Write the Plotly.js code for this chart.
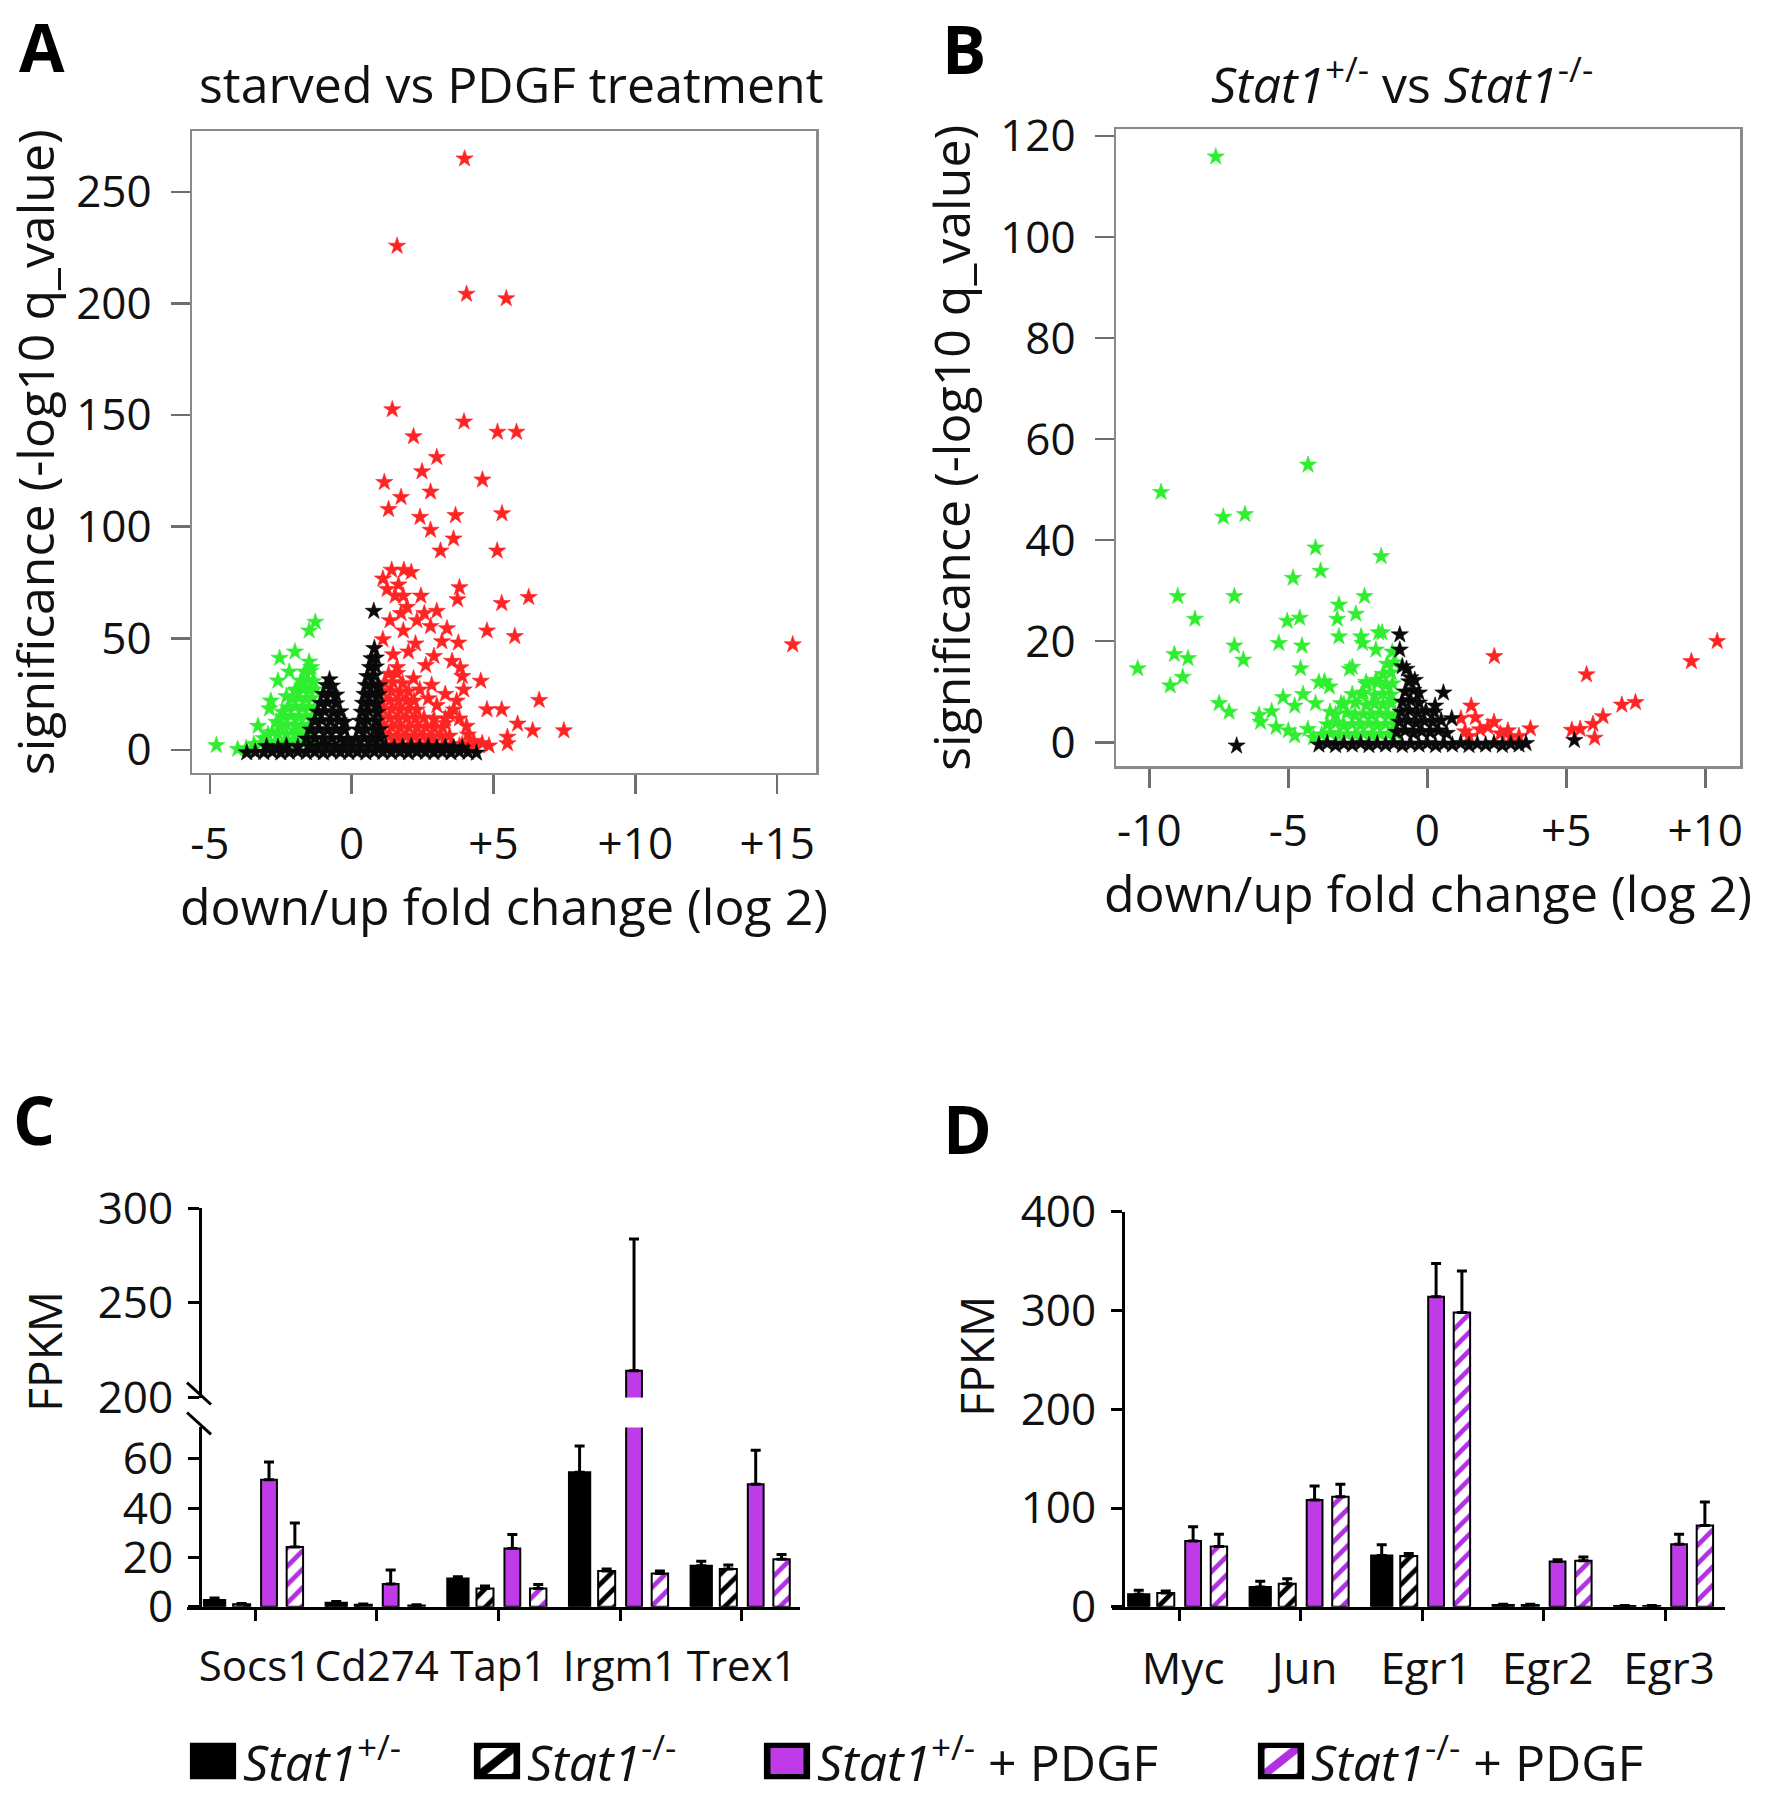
<!DOCTYPE html>
<html><head><meta charset="utf-8">
<script src="https://cdn.plot.ly/plotly-3.0.1.min.js"></script>
<style>html,body{margin:0;padding:0;background:#fff}</style>
</head><body>
<div id="chart" style="width:1772px;height:1800px"></div>
<script>
// ---------------- DATA ----------------
// Panel A: starved vs PDGF treatment (x = log2 fold change, y = -log10 q)
const A_xticks = [-5, 0, 5, 10, 15];
const A_xticktext = ['-5', '0', '+5', '+10', '+15'];
const A_down = [ // green (down-regulated)
[-4.77,2.1],[-4.02,0.4],[-3.72,0.8],[-3.45,2.6],[-3.3,10.7],[-3.1,5.2],[-2.85,22],[-2.9,18.5],[-2.6,31],[-2.54,41.2],[-2.2,35],[-2.0,44],[-1.5,53.4],[-1.28,57.3],[-1.43,37],[-1.7,30.5],[-2.0,26.5],[-2.3,24],[-2.45,17],[-2.65,12.5],[-2.8,8],
[-3.2,3],[-2.9,3.4],[-2.6,2.8],[-2.3,3.2],[-2.0,3],[-1.7,3.3],[-1.45,2.9],
[-2.95,7],[-2.6,7.3],[-2.3,6.8],[-2.0,7.2],[-1.75,7],[-1.5,6.7],
[-2.55,11],[-2.3,11.4],[-2.0,10.8],[-1.75,11.2],[-1.5,11],
[-2.4,15],[-2.15,15.3],[-1.85,14.8],[-1.6,15.2],[-1.35,15],
[-2.25,19],[-2.0,19.4],[-1.75,18.8],[-1.5,19.2],[-1.3,19],
[-2.1,23],[-1.85,23.3],[-1.6,22.8],[-1.4,23.2],
[-1.95,27],[-1.7,27.2],[-1.5,26.8],[-1.3,27.1],
[-1.8,31],[-1.55,31.3],[-1.35,30.8],
[-1.65,35],[-1.45,35.4],[-1.5,39.5]
];
const A_up = [ // red (up-regulated)
[3.98,264.8],[1.60,225.7],[4.05,204.2],[5.45,202.2],[1.43,152.5],[3.96,147],[2.18,140.4],[5.14,142.4],[5.81,142.4],[3.0,131.1],[2.48,124.7],[4.61,121],[1.15,119.9],[2.78,115.6],[1.74,113.2],[1.30,107.8],[2.41,104.3],[3.66,105.1],[5.30,105.9],[2.78,98.5],[3.59,94.6],[3.13,89.2],[5.13,89.2],
[1.10,76.7],[1.41,80.6],[1.84,80.6],[2.10,79.6],[3.80,72.8],[3.73,67.4],[6.24,68.4],[1.53,69],[1.82,69],[2.44,69],[5.29,65.7],[3.0,62.2],[1.74,61.2],[2.56,61.2],[2.78,55.4],[3.36,54.4],[4.77,53.4],[5.75,50.9],[3.76,48],[3.18,48.6],[1.82,53.4],[1.10,49.5],[2.25,47.6],[1.46,42.7],[2.61,37.9],[3.54,39.8],[3.83,36.9],[3.90,33],[4.55,30.9],[2.82,29.1],[6.61,22.3],[4.77,18.1],[5.29,18.1],[5.85,11.7],[6.38,8.7],[7.48,8.7],[5.49,5.8],[5.49,2.9],[4.84,1.9],[2.18,32],[15.55,47.2],
[1.25,72],[1.65,74],[1.95,64],[2.3,58],[1.35,58],[2.0,44],[2.9,42],[1.6,37],[3.3,25],[3.6,18],[3.8,14],[4.05,10.7],[4.1,6.8],[3.3,12],[3.45,16],[3.7,22],[3.95,27],[4.3,4],[4.6,3],[3.9,2.5],[4.2,1.5],[3.0,20],[2.7,23],[2.4,27],
[1.1,2],[1.4,2.3],[1.7,1.8],[2.0,2.2],[2.3,2],[2.6,2.4],[2.9,1.8],[3.2,2.1],[3.5,2.3],[3.8,1.9],[4.1,2.2],
[1.05,6],[1.35,6.3],[1.65,5.8],[1.95,6.2],[2.25,6],[2.55,6.4],[2.85,5.8],[3.15,6.1],[3.45,6.3],
[1.1,10],[1.4,10.3],[1.7,9.8],[2.0,10.2],[2.3,10],[2.6,10.4],[2.9,9.8],[3.2,10.1],
[1.05,14],[1.35,14.3],[1.65,13.8],[1.95,14.2],[2.25,14],[2.55,14.4],[2.9,13.8],[3.3,14.1],
[1.1,18],[1.4,18.3],[1.7,17.8],[2.0,18.2],[2.3,18],
[1.05,22],[1.35,22.3],[1.65,21.8],[1.95,22.2],[2.2,22],
[1.1,26],[1.4,26.3],[1.7,25.8],[2.0,26.2],
[1.15,30],[1.45,30.3],[1.8,29.8],[1.3,34],[1.6,34.3]
];
const A_flat = [ // black (not significant)
[-3.7,-1.2],[-3.4,-0.9],[-3.1,-1.1],[-2.8,-0.8],[-2.5,-1.2],[-2.2,-1.0],[-1.9,-0.7],[-1.6,-1.1],[-1.3,-0.9],[-1.0,-1.2],[-0.7,-0.8],[-0.4,-1.0],[-0.1,-1.1],[0.2,-0.9],[0.5,-1.2],[0.8,-0.8],[1.1,-1.0],[1.4,-1.1],[1.7,-0.9],[2.0,-1.2],[2.3,-0.8],[2.6,-1.0],[2.9,-1.1],[3.2,-0.9],[3.5,-1.2],[3.8,-0.8],[4.1,-1.0],[4.4,-1.3],
[-3.0,1.6],[-2.6,1.2],[-2.3,1.8],[-1.9,1.4],[-1.5,1.7],[-1.2,1.3],[-0.9,1.9],[-0.6,1.5],[-0.3,1.2],[0.0,1.8],[0.3,1.4],[0.6,1.6],[0.9,1.3],[1.2,1.7],[1.5,1.2],[1.8,1.5],[2.1,1.8],[2.4,1.3],[2.7,1.6],[3.0,1.2],[3.3,1.5],[3.6,1.1],[3.9,0.9],
[-1.6,5],[-1.3,5.3],[-1.0,4.8],[-0.7,5.2],[-0.4,5],[-0.15,4.7],
[-1.45,9],[-1.15,9.3],[-0.85,8.8],[-0.55,9.2],[-0.25,8.9],
[-1.3,13],[-1.05,13.3],[-0.75,12.8],[-0.45,13.2],[-0.25,12.6],
[-1.2,17],[-0.95,17.3],[-0.65,16.8],[-0.4,17.2],
[-1.1,21],[-0.85,21.3],[-0.55,20.8],
[-1.0,25],[-0.75,25.3],[-0.55,24.7],
[-0.9,29],[-0.7,28.7],[-0.78,31.5],
[0.15,5],[0.45,5.3],[0.75,4.8],[1.0,5.2],
[0.25,9],[0.5,9.3],[0.8,8.8],[1.0,9.2],
[0.3,13],[0.55,13.3],[0.85,12.8],
[0.35,17],[0.6,17.3],[0.9,16.8],
[0.4,21],[0.65,21.3],[0.9,20.8],
[0.45,25],[0.7,25.3],[0.95,24.8],
[0.5,29],[0.75,29.3],[0.95,28.8],
[0.55,33],[0.8,33.3],[0.65,37],[0.85,37.3],
[0.7,41],[0.85,41.3],[0.8,45.5],[0.78,62.2]
];

// Panel B: Stat1+/- vs Stat1-/-
const B_xticks = [-10, -5, 0, 5, 10];
const B_xticktext = ['-10', '-5', '0', '+5', '+10'];
const B_down = [
[-7.61,115.9],[-4.29,54.9],[-9.58,49.5],[-7.34,44.6],[-6.56,45.1],[-4.02,38.5],[-1.66,36.8],[-3.84,33.9],[-4.83,32.5],[-8.98,28.9],[-6.94,28.9],[-2.26,28.9],[-3.18,27.2],[-2.57,25.4],[-5.04,24.0],[-4.59,24.6],[-3.24,24.4],[-8.36,24.4],[-3.18,20.9],[-2.38,20.9],[-2.33,19.6],[-1.85,18.3],[-1.75,21.7],[-1.63,21.7],[-6.94,19.1],[-5.34,19.6],[-4.51,19.1],[-9.10,17.4],[-8.61,16.6],[-10.42,14.6],[-6.62,16.3],[-8.80,12.9],[-9.25,11.2],[-4.56,14.6],[-2.80,14.5],[-2.70,14.9],[-3.70,12.0],[-3.52,11.0],[-7.49,7.7],[-7.13,6.0],[-6.05,5.4],[-6.00,4.0],[-5.60,6.1],[-5.19,8.9],[-4.77,7.2],[-4.47,9.5],[-5.00,2.3],[-4.77,1.3],[-5.44,3.0],[-4.02,7.7],[-3.90,11.9],[-2.20,11.9],[-1.85,12.3],[-2.38,9.4],[-3.50,6.0],[-3.10,7.7],[-4.30,2.6],[-4.10,0.9],
[-3.8,1.5],[-3.5,1.8],[-3.2,1.3],[-2.9,1.6],[-2.6,1.4],[-2.3,1.7],[-2.0,1.3],[-1.7,1.6],[-1.4,1.5],[-1.15,1.8],
[-3.6,3.5],[-3.3,3.8],[-3.0,3.3],[-2.7,3.6],[-2.4,3.4],[-2.1,3.7],[-1.8,3.3],[-1.5,3.6],[-1.2,3.5],
[-3.3,5.5],[-2.9,5.8],[-2.6,5.3],[-2.3,5.6],[-2.0,5.4],[-1.7,5.7],[-1.4,5.3],[-1.15,5.6],
[-3.0,7.5],[-2.6,7.8],[-2.2,7.3],[-1.9,7.6],[-1.6,7.4],[-1.3,7.7],
[-2.7,9.5],[-2.3,9.8],[-1.9,9.3],[-1.6,9.6],[-1.3,9.4],
[-2.2,11.5],[-1.8,11.8],[-1.5,11.3],[-1.25,11.6],
[-1.6,13.5],[-1.3,13.8],[-1.45,15.5],[-1.2,15.8],[-1.26,17.9]
];
const B_up = [
[1.21,4.7],[1.58,7.2],[1.73,4.9],[2.18,3.0],[1.36,2.1],[2.63,1.7],[3.0,1.0],[3.71,2.7],[2.41,17.0],[1.9,2.5],[2.4,4.0],[2.9,2.3],[3.3,1.2],[1.5,1.2],
[5.73,13.4],[10.43,20.0],[9.5,16.0],[7.49,7.9],[7.0,7.4],[6.32,5.1],[5.96,3.6],[6.02,0.85],[5.5,2.6],[5.2,2.4]
];
const B_flat = [
[-3.9,-0.5],[-3.6,-0.2],[-3.3,-0.6],[-3.0,-0.3],[-2.7,-0.5],[-2.4,-0.2],[-2.1,-0.6],[-1.8,-0.3],[-1.5,-0.5],[-1.2,-0.2],[-0.9,-0.6],[-0.6,-0.3],[-0.3,-0.5],[0.0,-0.2],[0.3,-0.6],[0.6,-0.3],[0.9,-0.5],[1.2,-0.2],[1.5,-0.6],[1.8,-0.3],[2.1,-0.5],[2.4,-0.2],[2.7,-0.6],[3.0,-0.3],[3.3,-0.5],[3.55,-0.2],
[-1.1,2],[-0.8,2.3],[-0.5,1.8],[-0.2,2.2],[0.1,2],[0.4,2.3],[0.7,1.8],
[-1.0,4],[-0.7,4.3],[-0.4,3.8],[-0.1,4.2],[0.2,4],[0.5,4.3],
[-0.95,6],[-0.65,6.3],[-0.35,5.8],[-0.05,6.2],[0.25,6],
[-0.9,8],[-0.6,8.3],[-0.3,7.8],
[-0.8,10],[-0.5,10.3],[-0.3,9.8],
[-0.65,12],[-0.45,12.3],[-0.9,15],[-0.75,14.5],
[-6.86,-0.7],[-0.99,21.3],[-0.99,18.3],[-0.61,12.8],[0.58,9.8],[0.28,7.2],[0.88,4.7],[5.29,0.4]
];

// Panel C: FPKM of interferon-related genes
const genesC = ['Socs1', 'Cd274', 'Tap1', 'Irgm1', 'Trex1'];
const C_het      = [2.7, 1.6, 11.5, 54.6, 16.6];
const C_het_err  = [0.8, 0.5, 0.7, 10.7, 1.9];
const C_ko       = [1.0, 0.8, 7.4, 14.5, 15.3];
const C_ko_err   = [0.3, 0.3, 1.0, 0.8, 1.6];
const C_hetP     = [51.6, 9.2, 23.6, 214.2, 49.7];
const C_hetP_err = [7.2, 5.7, 5.7, 69.6, 13.8];
const C_koP      = [24.3, 0.5, 7.4, 13.5, 19.3];
const C_koP_err  = [9.7, 0.3, 1.6, 1.0, 1.9];

// Panel D: FPKM of immediate-early genes
const genesD = ['Myc', 'Jun', 'Egr1', 'Egr2', 'Egr3'];
const D_het      = [12.7, 20.0, 52.0, 1.7, 0.7];
const D_het_err  = [4.0, 5.7, 10.7, 0.8, 0.5];
const D_ko       = [14.0, 23.3, 51.3, 1.7, 0.7];
const D_ko_err   = [2.0, 5.0, 2.7, 0.8, 0.5];
const D_hetP     = [66.7, 108.0, 314.0, 45.7, 63.3];
const D_hetP_err = [14.3, 14.3, 33.7, 2.0, 10.0];
const D_koP      = [61.0, 111.3, 298.0, 46.7, 82.3];
const D_koP_err  = [12.3, 12.7, 42.0, 3.6, 23.7];

const seriesNames = [
  '<i>Stat1</i><sup>+/-</sup>',
  '<i>Stat1</i><sup>-/-</sup>',
  '<i>Stat1</i><sup>+/-</sup> + PDGF',
  '<i>Stat1</i><sup>-/-</sup> + PDGF'
];

// ---------------- LAYOUT HELPERS ----------------
const W = 1772, H = 1800;
const px = v => v / W;
const py = v => 1 - v / H;
const FONT = 'Open Sans, Noto Sans, sans-serif';
const PURPLE = '#bf3be7';
const PURPLE_HATCH = '#b030e2';

const starStyle = c => ({symbol: 'star', size: 13, color: c, line: {width: 0.6, color: c}});
function volcano(pts, color, xa, ya, name) {
  return {type: 'scatter', mode: 'markers', x: pts.map(p => p[0]), y: pts.map(p => p[1]),
    xaxis: xa, yaxis: ya, marker: starStyle(color), showlegend: false, name: name, cliponaxis: true};
}

const barStyles = [
  {color: '#000', line: {color: '#000', width: 2}},
  {color: '#fff', pattern: {shape: '/', fgcolor: '#000', bgcolor: '#fff', size: 13, solidity: 0.36}, line: {color: '#000', width: 2}},
  {color: PURPLE, line: {color: '#000', width: 2}},
  {color: '#fff', pattern: {shape: '/', fgcolor: PURPLE_HATCH, bgcolor: '#fff', size: 13, solidity: 0.36}, line: {color: '#000', width: 2}}
];
const barOffsets = [-0.42, -0.18, 0.05, 0.26];
const barWidths = [0.175, 0.14, 0.13, 0.135];
const legendIds = ['legend', 'legend2', 'legend3', 'legend4'];

function barTrace(cats, vals, errs, k, xa, ya, showLeg) {
  return {type: 'bar', x: cats, y: vals, xaxis: xa, yaxis: ya,
    offset: barOffsets[k], width: barWidths[k], marker: barStyles[k],
    name: seriesNames[k], showlegend: showLeg, legend: legendIds[k],
    error_y: {type: 'data', symmetric: false, array: errs, arrayminus: vals.map(() => 0),
      color: '#000', thickness: 3, width: 5}};
}

const traces = [
  volcano(A_down, '#2fee2f', 'x', 'y', 'down'),
  volcano(A_up, '#ff2424', 'x', 'y', 'up'),
  volcano(A_flat, '#0a0a0a', 'x', 'y', 'n.s.'),
  volcano(B_down, '#2fee2f', 'x2', 'y2', 'down'),
  volcano(B_up, '#ff2424', 'x2', 'y2', 'up'),
  volcano(B_flat, '#0a0a0a', 'x2', 'y2', 'n.s.'),
  barTrace(genesC, C_het, C_het_err, 0, 'x3', 'y3', true),
  barTrace(genesC, C_ko, C_ko_err, 1, 'x3', 'y3', true),
  barTrace(genesC, C_hetP, C_hetP_err, 2, 'x3', 'y3', true),
  barTrace(genesC, C_koP, C_koP_err, 3, 'x3', 'y3', true),
  barTrace(genesC, C_hetP, C_hetP_err, 2, 'x4', 'y4', false),
  barTrace(genesD, D_het, D_het_err, 0, 'x5', 'y5', false),
  barTrace(genesD, D_ko, D_ko_err, 1, 'x5', 'y5', false),
  barTrace(genesD, D_hetP, D_hetP_err, 2, 'x5', 'y5', false),
  barTrace(genesD, D_koP, D_koP_err, 3, 'x5', 'y5', false)
];

const frameAx = {showline: true, mirror: true, linecolor: '#8a8a8a', linewidth: 2.5,
  ticks: 'outside', ticklen: 19, tickwidth: 2.5, tickcolor: '#6e6e6e', tickangle: 0,
  showgrid: false, zeroline: false, tickfont: {size: 44, color: '#111', family: FONT}};
const barAx = {showline: true, linecolor: '#000', linewidth: 3, ticks: 'outside', ticklen: 11,
  tickwidth: 3, tickcolor: '#000', showgrid: false, zeroline: false, tickangle: 0,
  tickfont: {size: 44, color: '#111', family: FONT}};
const titleFont = {size: 50, color: '#111', family: FONT};
const letterFont = {size: 66, color: '#000', family: FONT};
const legFont = {size: 50, color: '#111', family: FONT};

function ann(text, x, y, font, extra) {
  return Object.assign({text: text, x: px(x), y: py(y), xref: 'paper', yref: 'paper',
    xanchor: 'center', yanchor: 'middle', showarrow: false, font: font}, extra || {});
}
function leg(x) {
  return {x: px(x), xanchor: 'left', y: py(1768), yanchor: 'middle', orientation: 'h',
    itemwidth: 50, font: legFont, bgcolor: 'rgba(0,0,0,0)'};
}

const layout = {
  width: W, height: H, margin: {l: 0, r: 0, t: 0, b: 0},
  paper_bgcolor: '#fff', plot_bgcolor: 'rgba(0,0,0,0)',
  font: {family: FONT, color: '#111'},
  barmode: 'overlay',
  xaxis: Object.assign({}, frameAx, {domain: [px(192), px(816)], range: [-5.63, 16.37], anchor: 'y',
    tickvals: A_xticks, ticktext: A_xticktext, ticklabelstandoff: 12,
    title: {text: 'down/up fold change (log 2)', font: titleFont, standoff: 12}}),
  yaxis: Object.assign({}, frameAx, {domain: [py(776), py(132)], range: [-10.3, 277], anchor: 'x',
    tickvals: [0, 50, 100, 150, 200, 250], ticklabelstandoff: 10,
    title: {text: 'significance (-log10 q_value)', font: titleFont, standoff: 6}}),
  xaxis2: Object.assign({}, frameAx, {domain: [px(1116), px(1740)], range: [-11.2, 11.25], anchor: 'y2',
    tickvals: B_xticks, ticktext: B_xticktext, ticklabelstandoff: 6,
    title: {text: 'down/up fold change (log 2)', font: titleFont, standoff: 10}}),
  yaxis2: Object.assign({}, frameAx, {domain: [py(769), py(130)], range: [-4.7, 121.3], anchor: 'x2',
    tickvals: [0, 20, 40, 60, 80, 100, 120], ticklabelstandoff: 10,
    title: {text: 'significance (-log10 q_value)', font: titleFont, standoff: 14}}),
  xaxis3: Object.assign({}, barAx, {domain: [px(187), px(800)], range: [-0.559, 4.479], anchor: 'y3',
    type: 'category', ticklabelstandoff: 10, tickfont: {size: 42, color: '#111', family: FONT}}),
  yaxis3: Object.assign({}, barAx, {domain: [py(1613), py(1433)], range: [0, 72.8], anchor: 'free',
    position: px(200), tickvals: [0, 20, 40, 60], ticklabelstandoff: 6}),
  xaxis4: {domain: [px(187), px(800)], range: [-0.559, 4.479], anchor: 'y4', type: 'category', visible: false},
  yaxis4: Object.assign({}, barAx, {domain: [py(1403), py(1213)], range: [200, 300], anchor: 'free',
    position: px(200), tickvals: [200, 250, 300], ticklabelstandoff: 6}),
  xaxis5: Object.assign({}, barAx, {domain: [px(1111.7), px(1725)], range: [-0.555, 4.493], anchor: 'y5',
    type: 'category', ticklabelstandoff: 10, ticklabelshift: 4}),
  yaxis5: Object.assign({}, barAx, {domain: [py(1613), py(1216.6)], range: [0, 400], anchor: 'free',
    position: px(1123), tickvals: [0, 100, 200, 300, 400], ticklabelstandoff: 6}),
  annotations: [
    ann('starved vs PDGF treatment', 511, 84, titleFont),
    ann('<i>Stat1</i><sup>+/-</sup> vs <i>Stat1</i><sup>-/-</sup>', 1402, 82, titleFont),
    ann('<b>A</b>', 42, 46, letterFont),
    ann('<b>B</b>', 964, 48, letterFont),
    ann('<b>C</b>', 34, 1123, letterFont),
    ann('<b>D</b>', 967, 1132, letterFont),
    ann('FPKM', 44, 1357, {size: 46, color: '#111', family: FONT}, {textangle: -90}),
    ann('FPKM', 976, 1362, {size: 46, color: '#111', family: FONT}, {textangle: -90})
  ],
  shapes: [
    {type: 'line', xref: 'paper', yref: 'paper', x0: px(187), y0: py(1388), x1: px(211), y1: py(1410), line: {color: '#000', width: 3}},
    {type: 'line', xref: 'paper', yref: 'paper', x0: px(187), y0: py(1418), x1: px(211), y1: py(1440), line: {color: '#000', width: 3}}
  ],
  legend: leg(183), legend2: leg(467), legend3: leg(757), legend4: leg(1251)
};

Plotly.newPlot('chart', traces, layout, {staticPlot: true, displayModeBar: false}).then(gd => {
  gd.querySelectorAll('.legendpoints path').forEach(p => {
    const t = p.getAttribute('transform') || '';
    p.setAttribute('transform', t + ' scale(3.3,2.6)');
  });
});
</script>
</body></html>
